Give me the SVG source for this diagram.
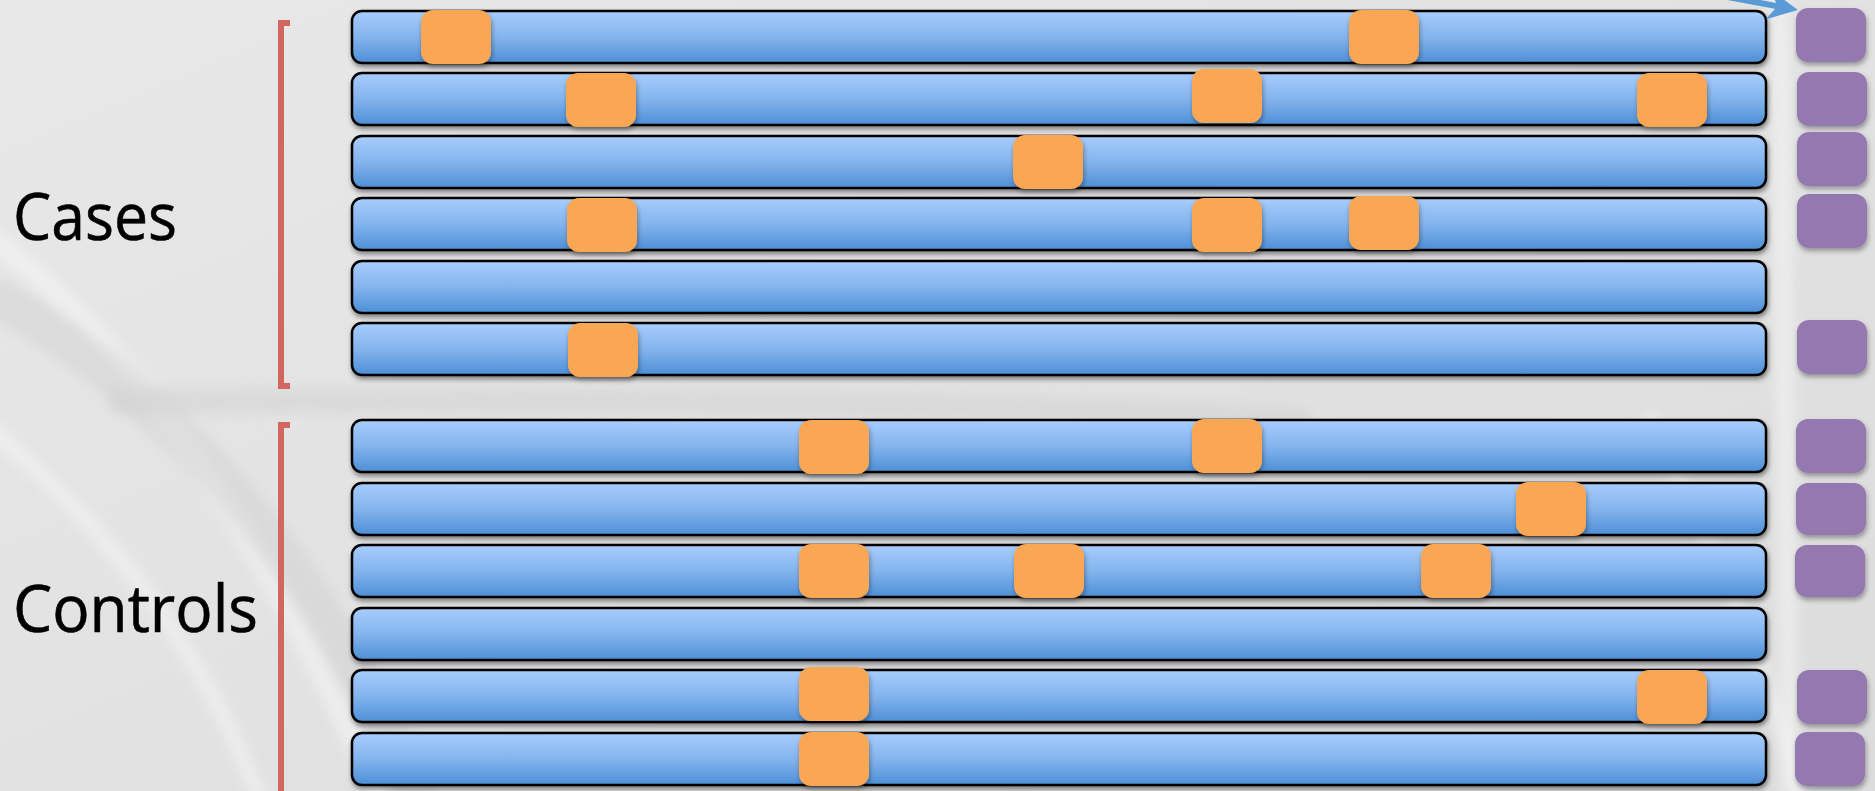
<svg xmlns="http://www.w3.org/2000/svg" width="1875" height="791" viewBox="0 0 1875 791">
<defs>
<linearGradient id="bg" x1="0" y1="0" x2="1" y2="1">
<stop offset="0" stop-color="#e8e8e8"/>
<stop offset="0.5" stop-color="#e2e2e2"/>
<stop offset="1" stop-color="#dcdcdc"/>
</linearGradient>
<linearGradient id="bar" x1="0" y1="0" x2="0" y2="1">
<stop offset="0" stop-color="#a8cdfc"/>
<stop offset="0.5" stop-color="#84b4ee"/>
<stop offset="1" stop-color="#4d8fd6"/>
</linearGradient>
<filter id="sh" x="-5%" y="-30%" width="110%" height="170%">
<feDropShadow dx="1" dy="3" stdDeviation="2.5" flood-color="#000" flood-opacity="0.45"/>
</filter>
<filter id="sh2" x="-30%" y="-30%" width="160%" height="170%">
<feDropShadow dx="1" dy="3" stdDeviation="2.5" flood-color="#000" flood-opacity="0.35"/>
</filter>
<filter id="blur" filterUnits="userSpaceOnUse" x="-100" y="-100" width="2100" height="1000"><feGaussianBlur stdDeviation="6"/></filter>
<marker id="ah" viewBox="0 0 10 10" refX="8" refY="5" markerWidth="5" markerHeight="5" orient="auto" markerUnits="strokeWidth">
<path d="M0,0 L10,5 L0,10 L3,5 z" fill="#5b9bd5"/>
</marker>
</defs>
<style>
.bar{fill:url(#bar);stroke:#000;stroke-width:2.5;filter:url(#sh)}
.snp{fill:#f9a755;filter:url(#sh2)}
.ph{fill:#9479b1;filter:url(#sh2)}
.br{fill:none;stroke:#d1675f;stroke-width:6}
.lbl{font-family:"Open Sans","Liberation Sans",sans-serif;font-size:66px;fill:#000;stroke:#000;stroke-width:0.6}
.deco{fill:none;stroke:#f4f4f4;stroke-linecap:round;opacity:0.6;filter:url(#blur)}
.deco2{fill:none;stroke:#cfcfcf;stroke-linecap:round;opacity:0.45;filter:url(#blur)}
</style>
<rect x="0" y="0" width="1875" height="791" fill="url(#bg)"/>
<g id="background-decoration">
<path class="deco" d="M-20,230 C120,330 260,520 380,800" stroke-width="22"/>
<path class="deco" d="M-20,420 C100,520 200,640 260,800" stroke-width="16"/>
<path class="deco2" d="M0,300 C140,380 300,520 420,800" stroke-width="40"/>
<path class="deco2" d="M120,402 C500,398 900,400 1300,420" stroke-width="26"/>
<path class="deco" d="M1780,0 L1790,791" stroke-width="18"/>
<path class="deco" d="M1650,420 C1700,520 1760,640 1800,791" stroke-width="14"/>
</g>
<g id="brackets">
<path class="br" d="M290,23 L281,23 L281,386 L290,386"/>
<path class="br" d="M290,425 L281,425 L281,800"/>
</g>
<g id="labels">
<text class="lbl" x="13" y="240" textLength="164" lengthAdjust="spacingAndGlyphs">Cases</text>
<text class="lbl" x="13" y="632" textLength="245" lengthAdjust="spacingAndGlyphs">Controls</text>
</g>
<g id="case-1"><rect class="bar" x="352" y="11" width="1414" height="52" rx="10"/><rect class="snp" x="421" y="10" width="70" height="54" rx="12"/><rect class="snp" x="1349" y="10" width="70" height="54" rx="12"/></g>
<g id="case-2"><rect class="bar" x="352" y="73" width="1414" height="52" rx="10"/><rect class="snp" x="566" y="73" width="70" height="54" rx="12"/><rect class="snp" x="1192" y="69" width="70" height="54" rx="12"/><rect class="snp" x="1637" y="73" width="70" height="54" rx="12"/></g>
<g id="case-3"><rect class="bar" x="352" y="136" width="1414" height="52" rx="10"/><rect class="snp" x="1013" y="135" width="70" height="54" rx="12"/></g>
<g id="case-4"><rect class="bar" x="352" y="198" width="1414" height="52" rx="10"/><rect class="snp" x="567" y="198" width="70" height="54" rx="12"/><rect class="snp" x="1192" y="198" width="70" height="54" rx="12"/><rect class="snp" x="1349" y="196" width="70" height="54" rx="12"/></g>
<g id="case-5"><rect class="bar" x="352" y="261" width="1414" height="52" rx="10"/></g>
<g id="case-6"><rect class="bar" x="352" y="323" width="1414" height="52" rx="10"/><rect class="snp" x="568" y="323" width="70" height="54" rx="12"/></g>
<g id="control-1"><rect class="bar" x="352" y="420" width="1414" height="52" rx="10"/><rect class="snp" x="799" y="420" width="70" height="54" rx="12"/><rect class="snp" x="1192" y="419" width="70" height="54" rx="12"/></g>
<g id="control-2"><rect class="bar" x="352" y="483" width="1414" height="52" rx="10"/><rect class="snp" x="1516" y="482" width="70" height="54" rx="12"/></g>
<g id="control-3"><rect class="bar" x="352" y="545" width="1414" height="52" rx="10"/><rect class="snp" x="799" y="544" width="70" height="54" rx="12"/><rect class="snp" x="1014" y="544" width="70" height="54" rx="12"/><rect class="snp" x="1421" y="544" width="70" height="54" rx="12"/></g>
<g id="control-4"><rect class="bar" x="352" y="608" width="1414" height="52" rx="10"/></g>
<g id="control-5"><rect class="bar" x="352" y="670" width="1414" height="52" rx="10"/><rect class="snp" x="799" y="667" width="70" height="54" rx="12"/><rect class="snp" x="1637" y="670" width="70" height="54" rx="12"/></g>
<g id="control-6"><rect class="bar" x="352" y="733" width="1414" height="52" rx="10"/><rect class="snp" x="799" y="732" width="70" height="54" rx="12"/></g>
<g id="phenotypes">
<rect class="ph" x="1796" y="8" width="70" height="54" rx="12"/>
<rect class="ph" x="1797" y="72" width="70" height="54" rx="12"/>
<rect class="ph" x="1797" y="132" width="70" height="54" rx="12"/>
<rect class="ph" x="1797" y="194" width="70" height="54" rx="12"/>
<rect class="ph" x="1797" y="320" width="70" height="54" rx="12"/>
<rect class="ph" x="1796" y="419" width="70" height="54" rx="12"/>
<rect class="ph" x="1796" y="483" width="70" height="52" rx="12"/>
<rect class="ph" x="1795" y="545" width="70" height="52" rx="12"/>
<rect class="ph" x="1797" y="670" width="70" height="54" rx="12"/>
<rect class="ph" x="1795" y="732" width="70" height="54" rx="12"/>
</g>
<g id="connectors">
<path d="M1690,-10 L1792,9" fill="none" stroke="#5b9bd5" stroke-width="6" marker-end="url(#ah)"/>
</g>
</svg>
